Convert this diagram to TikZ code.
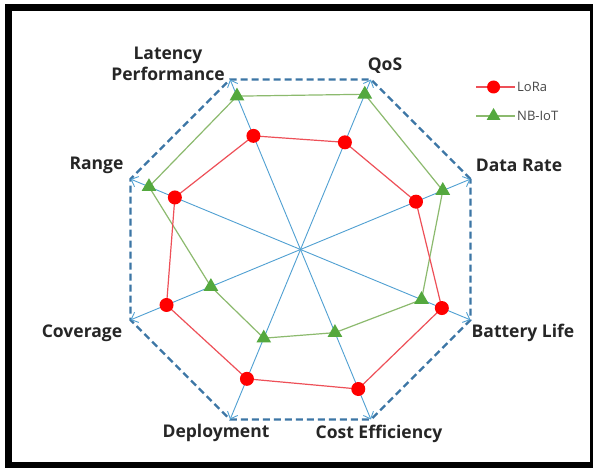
\documentclass[tikz,border=0pt]{standalone}
\usepackage{fontspec}
\setmainfont{Open Sans}
\usetikzlibrary{arrows.meta,calc,shapes.geometric}

\definecolor{axisblue}{RGB}{80,160,210}
\definecolor{dashblue}{RGB}{60,118,165}
\definecolor{lorared}{RGB}{238,80,88}
\definecolor{nbline}{RGB}{140,186,110}
\definecolor{nbfill}{RGB}{84,168,62}
\definecolor{labtext}{RGB}{38,38,38}

\begin{document}
\begin{tikzpicture}[x=1pt,y=1pt,
  axis/.style={axisblue, line width=0.9pt, -{Straight Barb[length=6pt,width=11pt]}},
  lab/.style={font=\bfseries\fontsize{17.5}{21}\selectfont, text=labtext, inner sep=0pt, align=center},
  leg/.style={font=\fontsize{13}{14}\selectfont, text=labtext!85, inner sep=0pt, anchor=west},
  loramark/.style={circle, fill=red, inner sep=0pt, minimum size=14pt},
  nbmark/.style={regular polygon, regular polygon sides=3, fill=nbfill, inner sep=0pt, minimum size=17pt}]

\useasboundingbox (0,0) rectangle (593,468);
\fill[black] (5,0) rectangle (593,464);
\fill[white] (12,6) rectangle (590,457);

\coordinate (c) at (300.5,218.5);
\coordinate (vdata) at ($(c)+(22.5:184)$);
\coordinate (vqos) at ($(c)+(67.5:184)$);
\coordinate (vlat) at ($(c)+(112.5:184)$);
\coordinate (vrange) at ($(c)+(157.5:184)$);
\coordinate (vcov) at ($(c)+(202.5:184)$);
\coordinate (vdep) at ($(c)+(247.5:184)$);
\coordinate (vcost) at ($(c)+(292.5:184)$);
\coordinate (vbatt) at ($(c)+(337.5:184)$);

% octagon frame
\draw[dashblue, line width=2.3pt, dash pattern=on 7pt off 4pt] (vdata) -- (vqos) -- (vlat) -- (vrange) -- (vcov) -- (vdep) -- (vcost) -- (vbatt) -- cycle;

% axes
\draw[axis] (c) -- (vdata);
\draw[axis] (c) -- (vqos);
\draw[axis] (c) -- (vlat);
\draw[axis] (c) -- (vrange);
\draw[axis] (c) -- (vcov);
\draw[axis] (c) -- (vdep);
\draw[axis] (c) -- (vcost);
\draw[axis] (c) -- (vbatt);

% NB-IoT line
\draw[nbline, line width=1.2pt] ($(c)+(22.5:154)$) coordinate (q1) -- ($(c)+(67.5:168)$) coordinate (q2) -- ($(c)+(112.5:166)$) coordinate (q3) -- ($(c)+(157.5:164)$) coordinate (q4) -- ($(c)+(202.5:97)$) coordinate (q5) -- ($(c)+(247.5:96)$) coordinate (q6) -- ($(c)+(292.5:90)$) coordinate (q7) -- ($(c)+(337.5:131)$) coordinate (q8) -- cycle;

% LoRa line
\draw[lorared, line width=1.2pt] ($(c)+(22.5:125)$) coordinate (p1) -- ($(c)+(67.5:116)$) coordinate (p2) -- ($(c)+(112.5:123)$) coordinate (p3) -- ($(c)+(157.5:136)$) coordinate (p4) -- ($(c)+(202.5:145)$) coordinate (p5) -- ($(c)+(247.5:140)$) coordinate (p6) -- ($(c)+(292.5:151)$) coordinate (p7) -- ($(c)+(337.5:153)$) coordinate (p8) -- cycle;

% markers
\node[nbmark] (n1) at (q1) {};
\node[nbmark] (n2) at (q2) {};
\node[nbmark] (n3) at (q3) {};
\node[nbmark] (n4) at (q4) {};
\node[nbmark] (n5) at (q5) {};
\node[nbmark] (n6) at (q6) {};
\node[nbmark] (n7) at (q7) {};
\node[nbmark] (n8) at (q8) {};
\node[loramark] (l1) at (p1) {};
\node[loramark] (l2) at (p2) {};
\node[loramark] (l3) at (p3) {};
\node[loramark] (l4) at (p4) {};
\node[loramark] (l5) at (p5) {};
\node[loramark] (l6) at (p6) {};
\node[loramark] (l7) at (p7) {};
\node[loramark] (l8) at (p8) {};

% labels
\node[lab] (latency) at (168,404.5) {Latency\\Performance};
\node[lab] (qos) at (385,402) {QoS};
\node[lab] (datarate) at (519,303) {Data Rate};
\node[lab] (battery) at (523,135) {Battery Life};
\node[lab] (cost) at (379,34) {Cost Efficiency};
\node[lab] (deploy) at (216,35) {Deployment};
\node[lab] (coverage) at (82,135) {Coverage};
\node[lab] (range) at (96.5,303) {Range};

% legend
\coordinate (lora a) at (476,381);
\coordinate (lora b) at (515,381);
\draw[lorared, line width=1.2pt] (lora a) -- (lora b);
\node[loramark, minimum size=13pt] (loraleg) at ($(lora a)!0.45!(lora b)$) {};
\node[leg] (loratext) at (517,381) {LoRa};
\coordinate (nb a) at (476,352);
\coordinate (nb b) at (515,352);
\draw[nbline, line width=1.2pt] (nb a) -- (nb b);
\node[nbmark, minimum size=16pt] (nbleg) at ($(nb a)!0.45!(nb b)$) {};
\node[leg] (nbtext) at (517,352) {NB-IoT};

\end{tikzpicture}
\end{document}
